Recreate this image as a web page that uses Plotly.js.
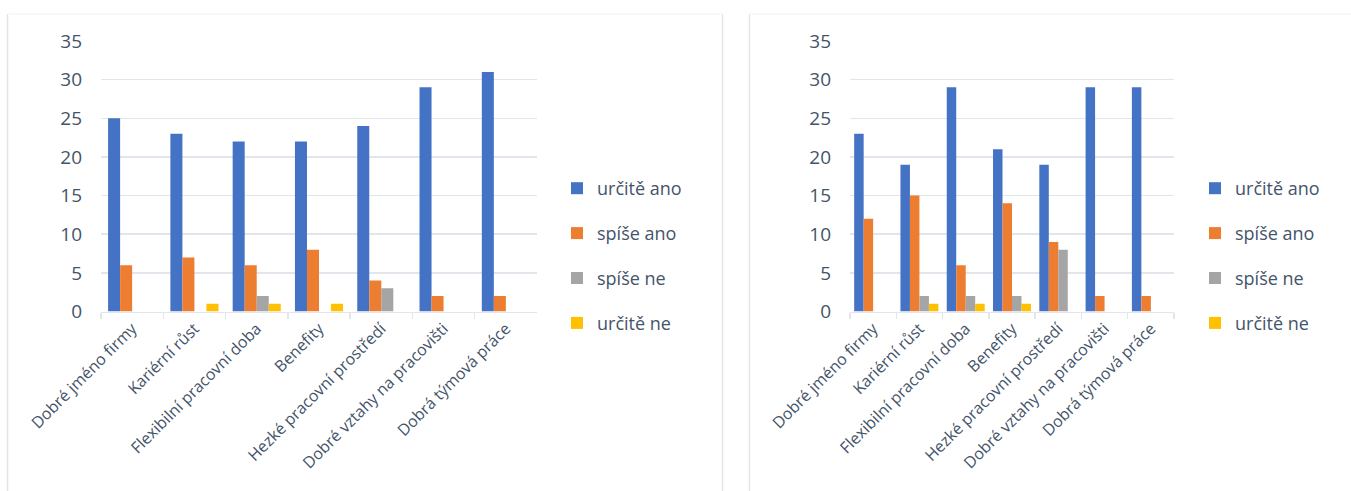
<!DOCTYPE html>
<html>
<head>
<meta charset="utf-8">
<script src="https://cdn.plot.ly/plotly-3.0.1.min.js"></script>
<style>html,body{margin:0;padding:0;background:#fff;}#chart{width:1351px;height:491px;}</style>
</head>
<body>
<div id="chart"></div>
<script>
const categories = ["Dobré jméno firmy","Kariérní růst","Flexibilní pracovní doba","Benefity","Hezké pracovní prostředí","Dobré vztahy na pracovišti","Dobrá týmová práce"];
const seriesNames = ["určitě ano","spíše ano","spíše ne","určitě ne"];
const leftUrciteAno = [25,23,22,22,24,29,31];
const leftSpiseAno  = [6,7,6,8,4,2,2];
const leftSpiseNe   = [0,0,2,0,3,0,0];
const leftUrciteNe  = [0,1,1,1,0,0,0];
const rightUrciteAno = [23,19,29,21,19,29,29];
const rightSpiseAno  = [12,15,6,14,9,2,2];
const rightSpiseNe   = [0,2,2,2,8,0,0];
const rightUrciteNe  = [0,1,1,1,0,0,0];
const yTicks = [0,5,10,15,20,25,30,35];

const colors = ["#4472C4","#ED7D31","#A5A5A5","#FFC000"];
const txtColor = "#44546A";
const font = "Open Sans, Noto Sans, sans-serif";

const leftData = [leftUrciteAno,leftSpiseAno,leftSpiseNe,leftUrciteNe];
const rightData = [rightUrciteAno,rightSpiseAno,rightSpiseNe,rightUrciteNe];
const leftW = 0.193, rightW = 0.205;
const traces = [];
leftData.forEach((vals,i)=>{
  traces.push({type:'bar', x:categories, y:vals, name:seriesNames[i], xaxis:'x', yaxis:'y',
    width:leftW, offset:-2*leftW + i*leftW, marker:{color:colors[i]}, legend:'legend',
    legendgroup:'L'+i, hoverinfo:'y'});
});
rightData.forEach((vals,i)=>{
  traces.push({type:'bar', x:categories, y:vals, name:seriesNames[i], xaxis:'x2', yaxis:'y2',
    width:rightW, offset:-2*rightW + i*rightW, marker:{color:colors[i]}, legend:'legend2',
    legendgroup:'R'+i, hoverinfo:'y'});
});

const W = 1351, H = 491;
const px = v => v/W, py = v => 1 - v/H;
const yDom = [py(311.5), py(41)];
const yax = {range:[0,35], tickvals:yTicks, showgrid:true, gridcolor:'#E2E6EC', gridwidth:1.5,
  zeroline:false, showline:false, ticks:'', tickfont:{size:19, color:txtColor, family:font},
  ticklabelstandoff:18, fixedrange:true};
const xax = {type:'category', showline:true, linecolor:'#E2E6EC', linewidth:1.5, ticks:'outside',
  tickson:'boundaries', ticklen:6, tickcolor:'#E2E6EC', tickwidth:1.5, tickangle:-45,
  tickfont:{size:16, color:txtColor, family:font}, showgrid:false, fixedrange:true};
const legendBase = {orientation:'v', xanchor:'left', yanchor:'top', bgcolor:'rgba(0,0,0,0)',
  font:{size:18, color:txtColor, family:font}, traceorder:'grouped', tracegroupgap:18.5, itemclick:false, itemdoubleclick:false};

const layout = {
  width:W, height:H, margin:{l:0,r:0,t:0,b:0}, paper_bgcolor:'#fff', plot_bgcolor:'#fff',
  barmode:'overlay', showlegend:true, font:{family:font, color:txtColor},
  xaxis:Object.assign({}, xax, {domain:[px(101), px(537)], anchor:'y'}),
  yaxis:Object.assign({}, yax, {domain:yDom, anchor:'x'}),
  xaxis2:Object.assign({}, xax, {domain:[px(850), px(1174)], anchor:'y2'}),
  yaxis2:Object.assign({}, yax, {domain:yDom, anchor:'x2'}),
  legend:Object.assign({}, legendBase, {x:px(557), y:py(170)}),
  legend2:Object.assign({}, legendBase, {x:px(1195), y:py(170)}),
  shapes:[
    {type:'line', xref:'paper', yref:'paper', x0:px(7.5), x1:px(7.5), y0:0, y1:py(14), line:{color:'#E1E5EB', width:1.5}},
    {type:'line', xref:'paper', yref:'paper', x0:px(722.5), x1:px(722.5), y0:0, y1:py(14), line:{color:'#E1E5EB', width:1.5}},
    {type:'line', xref:'paper', yref:'paper', x0:px(7.5), x1:px(722.5), y0:py(14), y1:py(14), line:{color:'#F3F3F3', width:1}},
    {type:'line', xref:'paper', yref:'paper', x0:px(749.5), x1:px(749.5), y0:0, y1:py(14), line:{color:'#E1E5EB', width:1.5}},
    {type:'line', xref:'paper', yref:'paper', x0:px(749.5), x1:1, y0:py(14), y1:py(14), line:{color:'#F3F3F3', width:1}}
  ]
};
Plotly.newPlot('chart', traces, layout, {displayModeBar:false, staticPlot:true});
</script>
</body>
</html>
